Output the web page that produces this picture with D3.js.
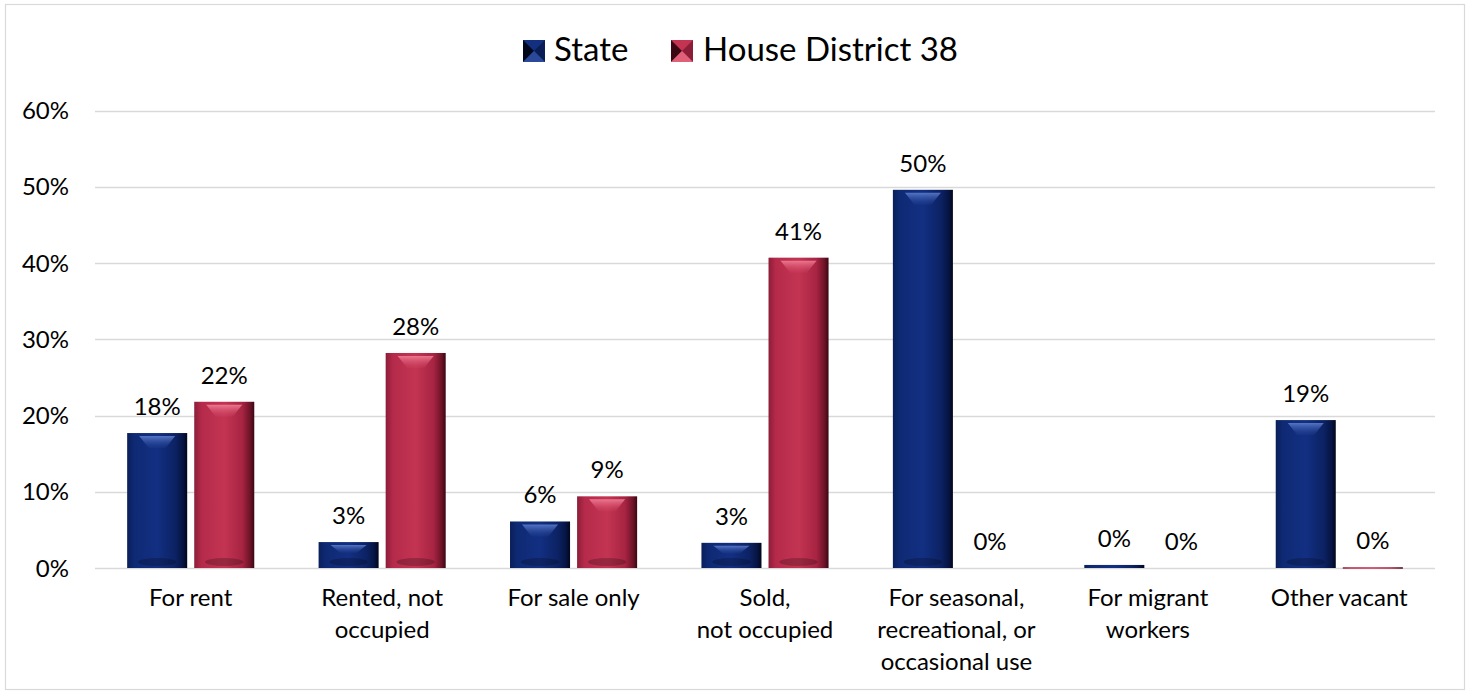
<!DOCTYPE html>
<html>
<head>
<meta charset="utf-8">
<script src="https://cdn.jsdelivr.net/npm/d3@7"></script>
<style>
html,body{margin:0;padding:0;background:#fff;}
svg text{font-family:Lato,"Open Sans",sans-serif;fill:#000;}
</style>
</head>
<body>
<svg id="chart" width="1471" height="694"></svg>
<script>
const categories = [
  ["For rent"],
  ["Rented, not", "occupied"],
  ["For sale only"],
  ["Sold,", "not occupied"],
  ["For seasonal,", "recreational, or", "occasional use"],
  ["For migrant", "workers"],
  ["Other vacant"]
];
const seriesNames = ["State", "House District 38"];
const stateValues = [17.7, 3.4, 6.1, 3.3, 49.6, 0.4, 19.4];
const districtValues = [21.8, 28.2, 9.4, 40.7, 0, 0, 0.1];
const yTicks = [0, 10, 20, 30, 40, 50, 60];

const svg = d3.select("#chart");
const plot = {left: 95, right: 1435, top: 110.5, bottom: 568};

// frame
svg.append("rect").attr("x", 5.5).attr("y", 4.5).attr("width", 1459).attr("height", 685)
  .attr("fill", "#fff").attr("stroke", "#d9d9d9").attr("stroke-width", 1.2);

const defs = svg.append("defs");
function hGrad(id, stops) {
  const g = defs.append("linearGradient").attr("id", id).attr("x1", "0").attr("x2", "1").attr("y1", "0").attr("y2", "0");
  stops.forEach(s => g.append("stop").attr("offset", s[0]).attr("stop-color", s[1]));
}
hGrad("gState", [["0%", "#0a1f5a"], ["12%", "#0f2a74"], ["50%", "#122f82"], ["80%", "#0c2263"], ["93%", "#061443"], ["100%", "#01061a"]]);
hGrad("gDist", [["0%", "#8c1d38"], ["12%", "#b52a4a"], ["50%", "#c33452"], ["80%", "#a72442"], ["93%", "#6e1328"], ["100%", "#3a0712"]]);
const hl = defs.append("linearGradient").attr("id", "hlS").attr("x1", "0").attr("x2", "0").attr("y1", "0").attr("y2", "1");
hl.append("stop").attr("offset", "0%").attr("stop-color", "#5b7ccc").attr("stop-opacity", 0.9);
hl.append("stop").attr("offset", "100%").attr("stop-color", "#2a4a9c").attr("stop-opacity", 0.15);
const hl2 = defs.append("linearGradient").attr("id", "hlD").attr("x1", "0").attr("x2", "0").attr("y1", "0").attr("y2", "1");
hl2.append("stop").attr("offset", "0%").attr("stop-color", "#f27f96").attr("stop-opacity", 0.9);
hl2.append("stop").attr("offset", "100%").attr("stop-color", "#d44a68").attr("stop-opacity", 0.15);

const y = d3.scaleLinear().domain([0, 60]).range([plot.bottom, plot.top]);
const x0 = d3.scaleBand().domain(d3.range(categories.length)).range([plot.left, plot.right]).paddingInner(0.336).paddingOuter(0.168);
const x1 = d3.scaleBand().domain(seriesNames).range([0, x0.bandwidth()]).paddingInner(0.105);

// gridlines
svg.append("g").selectAll("line").data(yTicks).join("line")
  .attr("x1", plot.left).attr("x2", plot.right)
  .attr("y1", d => Math.round(y(d)) + 0.5).attr("y2", d => Math.round(y(d)) + 0.5)
  .attr("stroke", "#d9d9d9").attr("stroke-width", 1.3);

// y labels
svg.append("g").selectAll("text").data(yTicks).join("text")
  .attr("x", 69).attr("y", d => y(d) + 8.5)
  .attr("text-anchor", "end").attr("font-size", 24)
  .text(d => d + "%");

const data = [];
categories.forEach((c, i) => {
  data.push({i, s: seriesNames[0], v: stateValues[i], grad: "gState", hl: "hlS"});
  data.push({i, s: seriesNames[1], v: districtValues[i], grad: "gDist", hl: "hlD"});
});

const bars = svg.append("g");
data.forEach(d => {
  const bx = x0(d.i) + x1(d.s);
  const bw = x1.bandwidth();
  const top = y(d.v);
  const h = plot.bottom - top;
  if (h <= 0) return;
  const g = bars.append("g");
  g.append("rect").attr("x", bx).attr("y", top).attr("width", bw).attr("height", Math.max(h, 1.5))
    .attr("fill", `url(#${d.grad})`);
  if (h > 20) {
    const ch = Math.min(12, h * 0.3);
    g.append("path")
      .attr("d", `M${bx + bw * 0.2},${top + 3} L${bx + bw * 0.8},${top + 3} L${bx + bw * 0.64},${top + 3 + ch} L${bx + bw * 0.36},${top + 3 + ch} Z`)
      .attr("fill", `url(#${d.hl})`);
    g.append("ellipse").attr("cx", bx + bw / 2).attr("cy", plot.bottom - 6).attr("rx", bw * 0.32).attr("ry", 4)
      .attr("fill", "#000").attr("opacity", 0.22);
  } else if (h > 6) {
    g.append("rect").attr("x", bx + bw * 0.2).attr("y", top + h * 0.35).attr("width", bw * 0.6).attr("height", h * 0.3)
      .attr("fill", `url(#${d.hl})`).attr("opacity", 0.7);
  }
});

// data labels
svg.append("g").selectAll("text").data(data).join("text")
  .attr("x", d => x0(d.i) + x1(d.s) + x1.bandwidth() / 2)
  .attr("y", d => y(d.v) - 18)
  .attr("text-anchor", "middle").attr("font-size", 24)
  .text(d => Math.round(d.v) + "%");

// category labels
const cat = svg.append("g");
categories.forEach((lines, i) => {
  const t = cat.append("text").attr("text-anchor", "middle").attr("font-size", 24)
    .attr("x", x0(i) + x0.bandwidth() / 2).attr("y", 606);
  lines.forEach((l, k) => t.append("tspan").attr("x", x0(i) + x0.bandwidth() / 2).attr("dy", k === 0 ? 0 : 32).text(l));
});

// legend
const leg = svg.append("g");
const legItems = [
  {name: seriesNames[0], mx: 523, tx: 554, c: ["#0a1d55", "#12307f", "#2a4a99", "#01061a"]},
  {name: seriesNames[1], mx: 671, tx: 703, c: ["#8c1d38", "#c33452", "#e0607a", "#3a0712"]}
];
legItems.forEach(it => {
  const s = 22, x = it.mx, yy = 40, cx = x + s / 2, cy = yy + s / 2;
  leg.append("rect").attr("x", x).attr("y", yy).attr("width", s).attr("height", s).attr("fill", it.c[1]);
  leg.append("path").attr("d", `M${x},${yy} L${cx},${cy} L${x},${yy + s} Z`).attr("fill", it.c[3]);
  leg.append("path").attr("d", `M${x + s},${yy} L${cx},${cy} L${x + s},${yy + s} Z`).attr("fill", it.c[0]);
  leg.append("path").attr("d", `M${x},${yy + s} L${cx},${cy} L${x + s},${yy + s} Z`).attr("fill", it.c[2]);
  leg.append("text").attr("x", it.tx).attr("y", 61).attr("font-size", 33).text(it.name);
});
</script>
</body>
</html>
